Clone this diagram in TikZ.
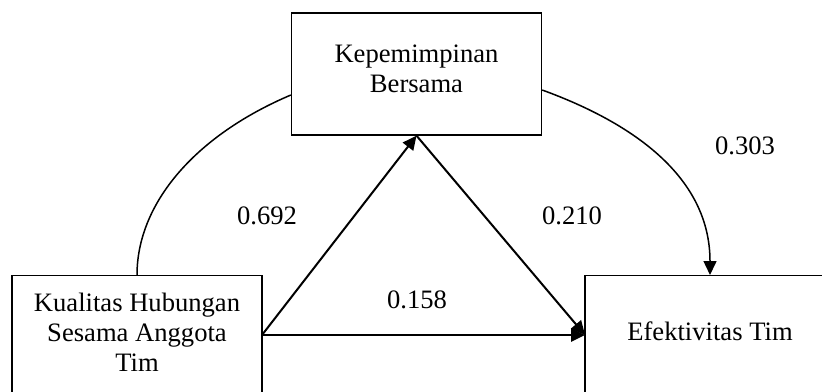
\documentclass[tikz,border=0pt]{standalone}
\usepackage{fontspec}
\setmainfont{Liberation Serif}
\usetikzlibrary{arrows.meta}

\begin{document}
\begin{tikzpicture}[x=0.5pt, y=-0.5pt, font=\fontsize{13.3}{15}\selectfont,
    box/.style={draw, line width=0.65pt, align=center, inner sep=0pt, minimum width=125pt},
    path/.style={line width=1pt, -{Triangle[length=7pt,width=6.5pt]}},
    coef/.style={inner sep=0pt}]
    \useasboundingbox (0,0) rectangle (822,391);

    % variabel
    \node[box, minimum height=61pt, text depth=5pt] (kb) at (416.5,74) {Kepemimpinan\\Bersama};
    \node[box, anchor=north, minimum height=75pt, text depth=18pt] (kh) at (137,275) {Kualitas Hubungan\\Sesama Anggota\\Tim};
    \node[box, anchor=north, minimum height=75pt, text depth=20pt] (et) at (710,275) {Efektivitas Tim};

    % jalur
    \coordinate (kh-out) at (262,335);
    \coordinate (et-in) at (585,335);
    \draw[path] (kh-out) -- (kb.south);
    \draw[path] (kb.south) -- (et-in);
    \draw[path, line width=1.3pt] (kh-out) -- (et-in);
    \draw[line width=0.75pt] (kh.north) to[out=90, in=203, out looseness=0.77, in looseness=1.13] ([yshift=-10.5pt]kb.west);
    \draw[path, line width=0.75pt] ([yshift=-8pt]kb.east) to[out=-20, in=90] (et.north);

    % koefisien
    \node[coef] (c1) at (267,216) {0.692};
    \node[coef] (c2) at (572,216) {0.210};
    \node[coef] (c3) at (745,146) {0.303};
    \node[coef] (c4) at (417,300) {0.158};
\end{tikzpicture}
\end{document}
